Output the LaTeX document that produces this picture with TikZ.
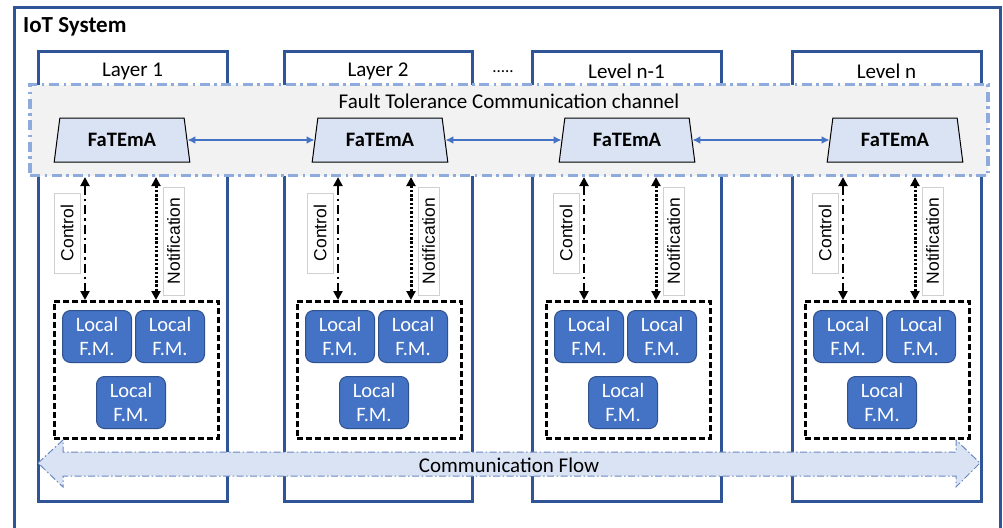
\documentclass[tikz,border=0pt]{standalone}
\usepackage{fontspec}
\setmainfont{Carlito}
\newfontfamily\arialfont{Liberation Sans}
\usetikzlibrary{shapes.geometric,arrows.meta}
\definecolor{frameblue}{HTML}{2F5597}
\definecolor{chanborder}{HTML}{8FAADC}
\definecolor{changray}{HTML}{F2F2F2}
\definecolor{palefill}{HTML}{DAE3F3}
\definecolor{fmfill}{HTML}{4472C4}
\definecolor{fmdraw}{HTML}{2F528F}
\definecolor{flowdraw}{HTML}{6A88C0}
\definecolor{tagdraw}{HTML}{D0D0D0}
\tikzset{
  framebox/.style={draw=frameblue, line width=3pt},
  layerlbl/.style={font=\fontsize{21}{24}\selectfont, inner sep=0pt},
  channel/.style={draw=chanborder, fill=changray, line width=3.2pt,
    dash pattern=on 10pt off 4.5pt on 2.5pt off 4.5pt,
    minimum width=958pt, minimum height=91pt, inner sep=0pt},
  fatema/.style={trapezium, trapezium angle=77, trapezium stretches=true,
    draw=black, line width=1pt, fill=palefill,
    minimum width=136pt, minimum height=44pt, inner sep=0pt,
    font=\bfseries\fontsize{20.5}{24}\selectfont},
  link/.style={draw=fmfill, line width=1.8pt,
    {Latex[length=8pt,width=8pt]}-{Latex[length=8pt,width=8pt]}},
  ctrlline/.style={line width=2.8pt, dash pattern=on 9pt off 4pt on 2.5pt off 4pt,
    {Triangle[length=9pt,width=9pt]}-{Triangle[length=9pt,width=9pt]}},
  notifline/.style={line width=3pt, dash pattern=on 2.4pt off 1.9pt,
    {Triangle[length=9pt,width=9pt]}-{Triangle[length=9pt,width=9pt]}},
  tag/.style={draw=tagdraw, line width=0.7pt, fill=white, rotate=90,
    inner sep=0pt, font=\arialfont\fontsize{17.5}{20}\selectfont},
  groupbox/.style={draw=black, line width=2.6pt, dash pattern=on 6pt off 3pt,
    minimum width=164pt, minimum height=137pt, inner sep=0pt},
  fmbox/.style={draw=fmdraw, fill=fmfill, line width=1pt, rounded corners=8pt,
    minimum width=69pt, minimum height=52pt, inner sep=0pt, align=center,
    text=white, font=\fontsize{20.5}{24}\selectfont},
  flowshape/.style={fill=palefill, draw=flowdraw, line width=1pt,
    dash pattern=on 7pt off 2.5pt on 1.5pt off 2.5pt}
}
\begin{document}
\begin{tikzpicture}[x=1pt,y=-1pt]
\useasboundingbox (0,0) rectangle (1003,527);
\clip (0,0) rectangle (1003,527);
\fill[white] (0,0) rectangle (1003,527);

% outer system frame (runs past the lower edge)
\draw[framebox] (14,8) rectangle (1000,560);
\node[anchor=west, font=\bfseries\fontsize{23}{26}\selectfont, inner sep=0pt] (title) at (23,27) {IoT System};

% layer columns
\foreach \bl/\br/\lab [count=\i] in {38/227/Layer 1, 284/472/Layer 2, 532/721/Level n-1, 792/981/Level n}{
  \draw[framebox] (\bl,52) rectangle (\br,501);
  \node[layerlbl] (lab\i) at ({(\bl+\br)/2},71) {\lab};
}
\node[font=\fontsize{17}{18}\selectfont, inner sep=0pt, anchor=base] (dots) at (503,73) {.....};

% fault tolerance channel across all layers
\node[channel] (chan) at (509,130) {};
\node[font=\fontsize{21}{24}\selectfont, inner sep=0pt] (chantitle) at (509,101) {Fault Tolerance Communication channel};

% per-layer contents
\foreach \fx/\cx/\nx/\dl [count=\i] in {122/85/156/53, 380/338/411/296, 627/584/656/545, 895/843/915/804}{
  \node[fatema] (f\i) at (\fx,140) {FaTEmA};
  \node[groupbox, anchor=north west] (grp\i) at (\dl,300) {};
  \node[fmbox, anchor=north west] (fma\i) at (\dl+9,310) {Local\\F.M.};
  \node[fmbox, anchor=north west] (fmb\i) at (\dl+82,310) {Local\\F.M.};
  \node[fmbox, anchor=north west] (fmc\i) at (\dl+43,376) {Local\\F.M.};
  \coordinate (cc\i) at (\cx,0);
  \coordinate (nc\i) at (\nx,0);
  \draw[ctrlline] (cc\i |- chan.south) -- (cc\i |- grp\i.north);
  \draw[notifline] (nc\i |- chan.south) -- (nc\i |- grp\i.north);
  \node[tag, minimum width=80pt, minimum height=26pt] (ctag\i) at (\cx-18,233) {Control};
  \node[tag, minimum width=108pt, minimum height=21pt] (ntag\i) at (\nx+17.5,241) {Notification};
}

% links between the FaTEmA managers
\draw[link] (f1.east) -- (f2.west);
\draw[link] (f2.east) -- (f3.west);
\draw[link] (f3.east) -- (f4.west);

% communication flow double arrow
\path[flowshape] (38,463) -- (63,440) -- (63,452) -- (956,452) -- (956,440)
  -- (980,463) -- (956,487) -- (956,476) -- (63,476) -- (63,487) -- cycle;
\node[font=\fontsize{21}{24}\selectfont, inner sep=0pt] (flow) at (509,465) {Communication Flow};
\end{tikzpicture}
\end{document}
